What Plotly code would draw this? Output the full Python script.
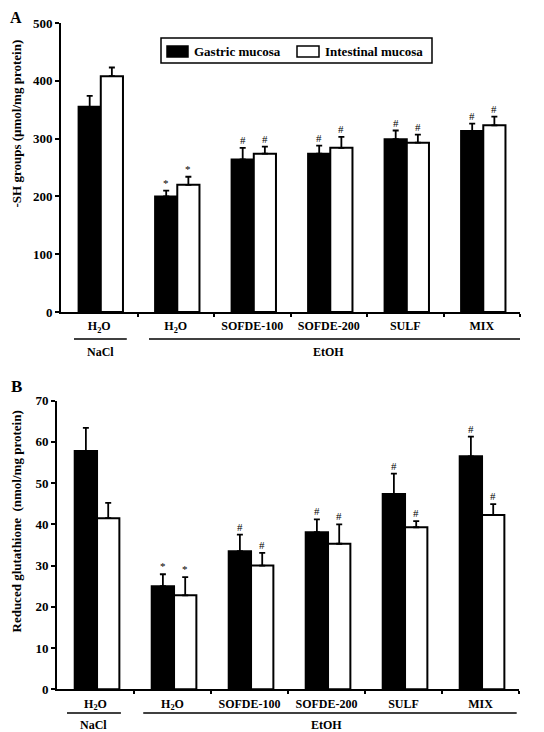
import plotly.graph_objects as go

categories = ["H<sub>2</sub>O", "H<sub>2</sub>O", "SOFDE-100", "SOFDE-200", "SULF", "MIX"]
groups = ["NaCl", "EtOH"]
series_names = ["Gastric mucosa", "Intestinal mucosa"]

sh_gastric = [355, 200, 264, 274, 299, 313]
sh_gastric_err = [19, 10, 20, 14, 15, 13]
sh_intestinal = [408, 220, 274, 284, 293, 323]
sh_intestinal_err = [15, 14, 12, 19, 14, 15]

gsh_gastric = [57.8, 25.0, 33.5, 38.1, 47.4, 56.5]
gsh_gastric_err = [5.6, 2.9, 4.0, 3.1, 4.9, 4.8]
gsh_intestinal = [41.5, 22.8, 30.0, 35.3, 39.3, 42.3]
gsh_intestinal_err = [3.7, 4.4, 3.1, 4.7, 1.5, 2.6]

sig_gastric = ["", "*", "#", "#", "#", "#"]
sig_intestinal = ["", "*", "#", "#", "#", "#"]

PAD = 8  # default page body margin
W, H = 544 - PAD, 732 - PAD
FONT = "Liberation Serif"
xs = list(range(len(categories)))
BW = 0.29
OFF_G, OFF_I = -0.27, 0.02


def px(x):
    return (x - PAD) / W


def py(y):
    return 1 - (y - PAD) / H


fig = go.Figure()

panels = [
    dict(xa="x", ya="y", g=sh_gastric, ge=sh_gastric_err, i=sh_intestinal, ie=sh_intestinal_err),
    dict(xa="x2", ya="y2", g=gsh_gastric, ge=gsh_gastric_err, i=gsh_intestinal, ie=gsh_intestinal_err),
]

for p in panels:
    fig.add_trace(go.Bar(
        x=xs, y=p["g"], width=BW, offset=OFF_G, name=series_names[0],
        marker=dict(color="black", line=dict(color="black", width=2)),
        error_y=dict(type="data", array=p["ge"], arrayminus=[0] * 6, symmetric=False,
                     color="black", thickness=1.8, width=3),
        xaxis=p["xa"], yaxis=p["ya"], showlegend=False))
    fig.add_trace(go.Bar(
        x=xs, y=p["i"], width=BW, offset=OFF_I, name=series_names[1],
        marker=dict(color="white", line=dict(color="black", width=2)),
        error_y=dict(type="data", array=p["ie"], arrayminus=[0] * 6, symmetric=False,
                     color="black", thickness=1.8, width=3),
        xaxis=p["xa"], yaxis=p["ya"], showlegend=False))
    for k in xs:
        for val, err, sig, off in [(p["g"][k], p["ge"][k], sig_gastric[k], OFF_G),
                                   (p["i"][k], p["ie"][k], sig_intestinal[k], OFF_I)]:
            if sig:
                fig.add_annotation(x=k + off + BW / 2, y=val + err, xref=p["xa"], yref=p["ya"],
                                   text=sig, showarrow=False, yanchor="bottom", yshift=0,
                                   font=dict(family=FONT, size=11, color="black"))

axis_common = dict(showline=True, linecolor="black", linewidth=2, showgrid=False, zeroline=False,
                   automargin=False)
tickfont = dict(family=FONT, size=13, color="black", weight="bold")
xcommon = dict(axis_common, range=[-0.5, 5.5], tickmode="array", tickvals=xs,
               ticktext=["<b>%s</b>" % c for c in categories],
               ticks="", tickfont=dict(family=FONT, size=12, color="black", weight="bold"),
               ticklabelstandoff=2,
               minor=dict(tickvals=[0.5, 1.5, 2.5, 3.5, 4.5, 5.5], ticks="outside", ticklen=3,
                          tickwidth=2, tickcolor="black"))

fig.update_layout(
    width=W, height=H, margin=dict(l=0, r=0, t=0, b=0, autoexpand=False),
    paper_bgcolor="white", plot_bgcolor="white", barmode="overlay", showlegend=False,
    font=dict(family=FONT, color="black"),
    xaxis=dict(xcommon, domain=[px(61), px(520)], anchor="y"),
    yaxis=dict(axis_common, domain=[py(312), py(23)], anchor="x", range=[0, 500], dtick=100,
               ticks="outside", ticklen=4, tickwidth=2, tickcolor="black", tickfont=tickfont),
    xaxis2=dict(xcommon, domain=[px(57), px(519)], anchor="y2"),
    yaxis2=dict(axis_common, domain=[py(689.3), py(400.7)], anchor="x2", range=[0, 70], dtick=10,
                ticks="outside", ticklen=4, tickwidth=2, tickcolor="black", tickfont=tickfont),
)

# legend box (drawn manually to match the wide swatches)
fig.add_shape(type="rect", xref="paper", yref="paper", x0=px(161), x1=px(432), y0=py(63), y1=py(38),
              line=dict(color="black", width=1.5), fillcolor="white")
for (x0, x1, tx), fill, name in [((167, 188, 192), "black", series_names[0]),
                                 ((297, 319, 323), "white", series_names[1])]:
    fig.add_shape(type="rect", xref="paper", yref="paper", x0=px(x0), x1=px(x1), y0=py(57), y1=py(46),
                  line=dict(color="black", width=1.5), fillcolor=fill)
    fig.add_annotation(x=px(tx), y=py(51.5), xref="paper", yref="paper", text="<b>%s</b>" % name,
                       showarrow=False, xanchor="left", yanchor="middle",
                       font=dict(family=FONT, size=13, color="black"))

# group lines and labels
for xa, ly, ty, nacl, etoh in [("x", 339, 352, (-0.33, 0.36), (0.65, 5.5)),
                               ("x2", 713, 725, (-0.37, 0.33), (0.62, 5.47))]:
    for (x0, x1), name in [(nacl, groups[0]), (etoh, groups[1])]:
        fig.add_shape(type="line", xref=xa, yref="paper", x0=x0, x1=x1, y0=py(ly), y1=py(ly),
                      line=dict(color="black", width=1.5))
        fig.add_annotation(x=(x0 + x1) / 2 if name == "NaCl" else 3.0, y=py(ty), xref=xa, yref="paper",
                           text="<b>%s</b>" % name, showarrow=False, yanchor="middle", xanchor="center",
                           font=dict(family=FONT, size=12, color="black"))

# y-axis titles
fig.add_annotation(x=px(15.5), y=py(124), xref="paper", yref="paper", textangle=-90,
                   xanchor="center", yanchor="middle",
                   text="<b>-SH groups (µmol/mg protein)</b>", showarrow=False,
                   font=dict(family=FONT, size=13, color="black"))
fig.add_annotation(x=px(15.5), y=py(522), xref="paper", yref="paper", textangle=-90,
                   xanchor="center", yanchor="middle",
                   text="<b>Reduced glutathione  (nmol/mg protein)</b>", showarrow=False,
                   font=dict(family=FONT, size=13, color="black"))

# panel letters
fig.add_annotation(x=px(9), y=1, xref="paper", yref="paper", text="<b>A</b>", showarrow=False,
                   xanchor="left", yanchor="top", borderpad=0,
                   font=dict(family=FONT, size=16, color="black"))
fig.add_annotation(x=px(9), y=py(386), xref="paper", yref="paper", text="<b>B</b>", showarrow=False,
                   xanchor="left", yanchor="middle",
                   font=dict(family=FONT, size=17, color="black"))

fig.write_html("out.html")
